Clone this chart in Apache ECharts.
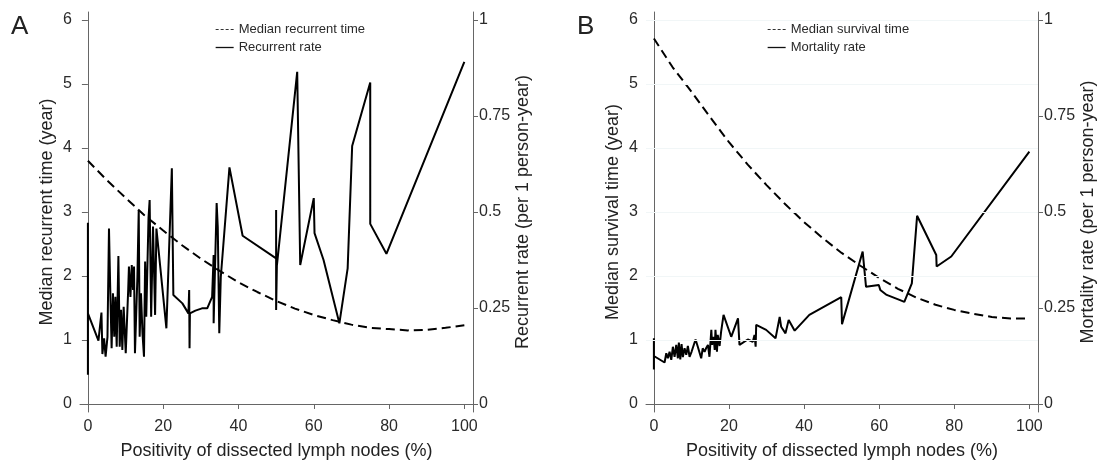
<!DOCTYPE html>
<html>
<head>
<meta charset="utf-8">
<title>Positivity of dissected lymph nodes</title>
<script src="https://cdn.jsdelivr.net/npm/echarts@6/dist/echarts.min.js"></script>
<style>
html, body { margin: 0; padding: 0; background: #fff; }
#chart { width: 1105px; height: 465px; }
</style>
</head>
<body>
<div id="chart"></div>
<script>
// axis ticks
const xTicks = [0, 20, 40, 60, 80, 100]
const timeTicks = [0, 1, 2, 3, 4, 5, 6]
const rateTicks = [0, 0.25, 0.5, 0.75, 1]

// dashed curves (median time, years), read every 5 %
const medianX = [0, 5, 10, 15, 20, 25, 30, 35, 40, 45, 50, 55, 60, 65, 70, 75, 80, 85, 90, 95, 100]
const medianRecurTime = [3.80, 3.50, 3.22, 2.95, 2.71, 2.48, 2.27, 2.08, 1.90, 1.75, 1.61, 1.49, 1.39, 1.31, 1.24, 1.19, 1.17, 1.15, 1.16, 1.19, 1.23]
const medianSurvTime = [5.71, 5.26, 4.88, 4.48, 4.09, 3.74, 3.42, 3.12, 2.84, 2.59, 2.36, 2.16, 1.97, 1.80, 1.66, 1.55, 1.47, 1.41, 1.36, 1.335, 1.335]

// panel A: recurrent rate (per 1 person-year)
const recurX = [0, 0, 0, 2.8, 3.6, 3.85, 4.3, 4.7, 5.2, 5.6, 5.9, 6.3, 6.65, 7.0, 7.3, 7.65, 8.1, 8.45, 8.8, 9.15,
  9.5, 10.05, 10.7, 10.9, 11.3, 11.65, 12.0, 12.25, 12.5, 13.15, 13.5, 13.75, 14.1, 14.5, 14.9, 15.2, 15.5, 16.1, 16.4, 16.8,
  17.3, 17.85, 18.2, 20.85, 22.3, 22.7, 25.1, 26.7, 26.9, 27.0, 27.1, 28.55, 30.3, 31.7, 33.0, 33.4, 33.4, 34.2, 34.5, 34.9,
  35.3, 37.6, 41.1, 50.0, 50.0, 50.0, 50.2, 55.6, 56.4, 60.0, 60.2, 62.6, 66.8, 69.0, 70.2, 75.0, 75.0, 79.3, 100]
const recurRate = [0.472, 0.076, 0.236, 0.165, 0.238, 0.130, 0.171, 0.123, 0.175, 0.457, 0.314, 0.145, 0.288, 0.175, 0.279, 0.149, 0.385, 0.149, 0.245, 0.141,
  0.253, 0.132, 0.297, 0.358, 0.279, 0.362, 0.297, 0.358, 0.132, 0.332, 0.505, 0.175, 0.288, 0.184, 0.123, 0.371, 0.227, 0.484, 0.531, 0.227,
  0.462, 0.232, 0.457, 0.197, 0.614, 0.284, 0.262, 0.236, 0.297, 0.145, 0.236, 0.243, 0.249, 0.249, 0.279, 0.388, 0.210, 0.523, 0.460, 0.184,
  0.330, 0.616, 0.438, 0.379, 0.505, 0.245, 0.360, 0.865, 0.362, 0.536, 0.445, 0.375, 0.210, 0.353, 0.672, 0.837, 0.469, 0.391, 0.891]

// panel B: mortality rate (per 1 person-year)
const mortX = [0, 0, 0, 2.85, 3.3, 3.73, 4.18, 4.63, 5.06, 5.51, 5.96, 6.39, 6.65, 7.03, 7.37, 7.72, 8.17, 8.62, 9.05, 9.5,
  10.03, 10.38, 11.1, 11.7, 12.2, 12.6, 13.0, 13.5, 13.9, 14.4, 14.8, 15.3, 15.5, 15.9, 16.2, 16.4, 16.8, 17.0, 17.5, 17.9,
  18.2, 18.55, 20.6, 22.4, 22.8, 25.0, 26.35, 26.8, 27.1, 27.25, 29.9, 32.4, 33.5, 33.9, 35.05, 35.9, 37.5, 41.4, 49.9, 50.1,
  55.6, 56.5, 59.9, 60.3, 62.0, 65.4, 66.7, 68.7, 70.1, 75.2, 75.3, 79.2, 100]
const mortRate = [0.171, 0.090, 0.125, 0.108, 0.132, 0.119, 0.136, 0.115, 0.149, 0.123, 0.154, 0.119, 0.160, 0.116, 0.156, 0.122, 0.145, 0.128, 0.151, 0.123,
  0.136, 0.132, 0.168, 0.149, 0.145, 0.119, 0.145, 0.136, 0.145, 0.154, 0.123, 0.193, 0.154, 0.175, 0.141, 0.193, 0.136, 0.180, 0.151, 0.188,
  0.193, 0.232, 0.175, 0.223, 0.154, 0.168, 0.162, 0.180, 0.149, 0.206, 0.193, 0.171, 0.227, 0.201, 0.184, 0.219, 0.191, 0.232, 0.278, 0.208,
  0.397, 0.305, 0.310, 0.297, 0.284, 0.271, 0.266, 0.314, 0.490, 0.388, 0.358, 0.384, 0.657]

const zip = (xs, ys) => xs.map((x, i) => [x, ys[i]])

const FONT = "'Liberation Sans', Arial, sans-serif"
const AXIS_COLOR = '#666'
const TEXT_COLOR = '#2a2a2a'

const makeX = (gridIndex) => ({
  type: 'value',
  gridIndex,
  min: -2.1,
  max: 102.3,
  name: 'Positivity of dissected lymph nodes (%)',
  nameLocation: 'middle',
  nameGap: 30,
  nameTextStyle: { fontSize: 18, color: '#222', fontFamily: FONT },
  axisLine: { show: true, lineStyle: { color: AXIS_COLOR, width: 1 } },
  axisTick: { show: true, length: 5, customValues: xTicks, lineStyle: { color: AXIS_COLOR } },
  axisLabel: { customValues: xTicks, margin: 7, fontSize: 16, color: TEXT_COLOR, fontFamily: FONT },
  splitLine: { show: false }
})

const makeTimeY = (gridIndex, name) => ({
  type: 'value',
  gridIndex,
  position: 'left',
  min: -0.125,
  max: 6.124,
  name,
  nameLocation: 'middle',
  nameRotate: 90,
  nameGap: 24,
  nameTextStyle: { fontSize: 18, color: '#222', fontFamily: FONT },
  axisLine: { show: true, lineStyle: { color: AXIS_COLOR, width: 1 } },
  axisTick: { show: true, length: 6, customValues: timeTicks, lineStyle: { color: AXIS_COLOR } },
  axisLabel: { customValues: timeTicks, margin: 8, fontSize: 16, color: TEXT_COLOR, fontFamily: FONT },
  splitLine: { show: false }
})

const makeRateY = (gridIndex, name) => ({
  type: 'value',
  gridIndex,
  position: 'right',
  min: -0.125 / 6,
  max: 6.124 / 6,
  name,
  nameLocation: 'middle',
  nameRotate: 90,
  nameGap: 39,
  nameTextStyle: { fontSize: 18, color: '#222', fontFamily: FONT },
  axisLine: { show: true, lineStyle: { color: AXIS_COLOR, width: 1 } },
  axisTick: { show: true, length: 5, customValues: rateTicks, lineStyle: { color: AXIS_COLOR } },
  axisLabel: { customValues: rateTicks, margin: 6, fontSize: 16, color: TEXT_COLOR, fontFamily: FONT },
  splitLine: { show: false }
})

const dashed = { color: '#000', width: 2, type: [9, 5] }
const solid = { color: '#000', width: 2 }

const makeLegend = (left, names) => ({
  left,
  top: 23,
  orient: 'vertical',
  padding: 0,
  itemWidth: 18,
  itemHeight: 12,
  itemGap: 5,
  textStyle: { fontSize: 13, color: TEXT_COLOR, fontFamily: FONT },
  data: [
    { name: names[0], itemStyle: { opacity: 0 }, lineStyle: { type: [3, 2], width: 1, color: '#333' } },
    { name: names[1], itemStyle: { opacity: 0 }, lineStyle: { width: 1.3, color: '#111' } }
  ]
})

const chart = echarts.init(document.getElementById('chart'), null, { renderer: 'canvas' })

const option = {
  backgroundColor: '#fff',
  animation: false,
  grid: [
    { left: 80, top: 12, width: 393, height: 401 },
    { left: 646, top: 12, width: 392, height: 401 }
  ],
  xAxis: [makeX(0), makeX(1)],
  yAxis: [
    makeTimeY(0, 'Median recurrent time (year)'),
    makeRateY(0, 'Recurrent rate (per 1 person-year)'),
    makeTimeY(1, 'Median survival time (year)'),
    makeRateY(1, 'Mortality rate (per 1 person-year)')
  ],
  legend: [
    makeLegend(215, ['Median recurrent time', 'Recurrent rate']),
    makeLegend(767, ['Median survival time', 'Mortality rate'])
  ],
  graphic: [
    { type: 'text', left: 11, top: 14, style: { text: 'A', fontSize: 26, fill: '#222', fontFamily: FONT } },
    { type: 'text', left: 577, top: 14, style: { text: 'B', fontSize: 26, fill: '#222', fontFamily: FONT } }
  ],
  series: [
    {
      name: 'Median recurrent time', type: 'line', xAxisIndex: 0, yAxisIndex: 0,
      symbol: 'none', lineStyle: dashed, itemStyle: { color: '#000' },
      data: zip(medianX, medianRecurTime)
    },
    {
      name: 'Recurrent rate', type: 'line', xAxisIndex: 0, yAxisIndex: 1,
      symbol: 'none', lineStyle: solid, itemStyle: { color: '#000' },
      data: zip(recurX, recurRate)
    },
    {
      name: 'Median survival time', type: 'line', xAxisIndex: 1, yAxisIndex: 2,
      symbol: 'none', lineStyle: dashed, itemStyle: { color: '#000' },
      data: zip(medianX, medianSurvTime),
      // faint grid lines of panel B
      markLine: {
        silent: true, symbol: 'none', label: { show: false },
        lineStyle: { color: '#f1f6f7', width: 1, type: 'solid' },
        data: [1, 2, 3, 4, 5, 6].map(v => ({ yAxis: v }))
      }
    },
    {
      name: 'Mortality rate', type: 'line', xAxisIndex: 1, yAxisIndex: 3,
      symbol: 'none', lineStyle: solid, itemStyle: { color: '#000' },
      data: zip(mortX, mortRate)
    }
  ]
}

chart.setOption(option)
</script>
</body>
</html>
